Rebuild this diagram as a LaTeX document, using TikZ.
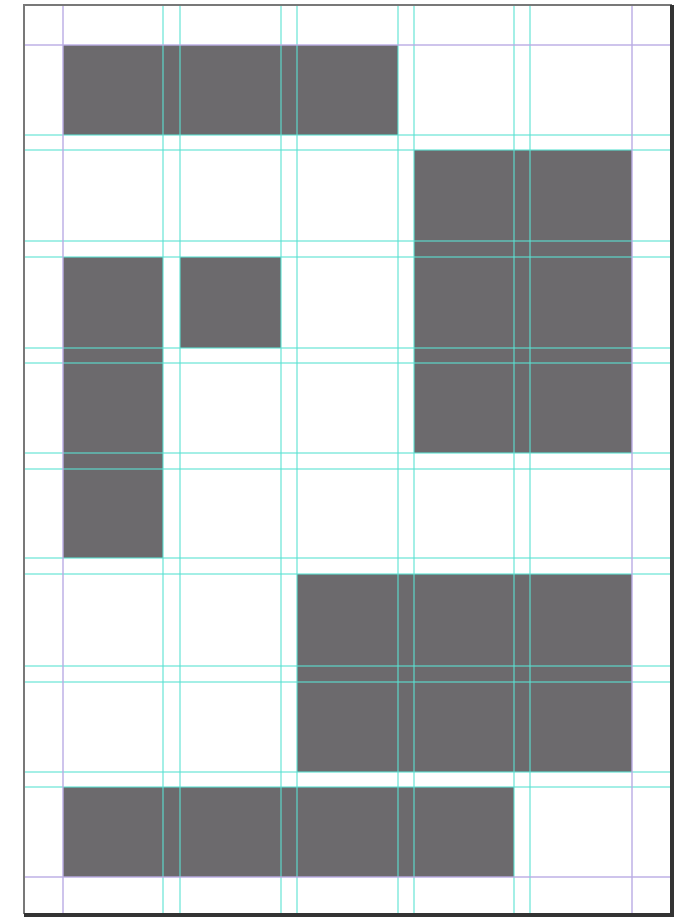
\documentclass[tikz,border=0pt]{standalone}
\usepackage{tikz}
\definecolor{bloque}{RGB}{108,106,109}
\definecolor{guia}{RGB}{90,226,210}
\definecolor{margen}{RGB}{186,172,228}
\definecolor{borde}{RGB}{120,120,120}

\begin{document}
\begin{tikzpicture}[x=0.02cm, y=-0.02cm,
		bloque/.style={fill=bloque, draw=none},
		guia/.style={draw=guia, line width=1.2pt, opacity=0.55},
		margen/.style={draw=margen, line width=1.1pt, opacity=0.7}]
		% Tamano de la imagen
		\useasboundingbox (0,0) rectangle (680,919);
		\fill[white] (0,0) rectangle (680,919);
		% Bloques de contenido
		\fill[bloque] (63,45) rectangle (398,135);
		\fill[bloque] (414,150) rectangle (632,453);
		\fill[bloque] (63,257) rectangle (163,558);
		\fill[bloque] (180,257) rectangle (281,348);
		\fill[bloque] (297,574) rectangle (632,772);
		\fill[bloque] (63,787) rectangle (514,877);
		% Guias de columnas
		\foreach \x in {163,180,281,297,398,414,514,530}
			\draw[guia] (\x,5) -- (\x,914);
		% Guias de filas
		\foreach \y in {135,150,241,257,348,363,453,469,558,574,666,682,772,787}
			\draw[guia] (24,\y) -- (672,\y);
		% Margenes de la pagina
		\foreach \x in {63,632}
			\draw[margen] (\x,5) -- (\x,914);
		\foreach \y in {45,877}
			\draw[margen] (24,\y) -- (672,\y);
		% Borde de la pagina con sombra
		\draw[borde, line width=1.2pt] (24,914) -- (24,5) -- (672,5);
		\draw[black!80, line width=2.4pt] (672,5) -- (672,915) -- (24,915);
	\end{tikzpicture}
\end{document}
